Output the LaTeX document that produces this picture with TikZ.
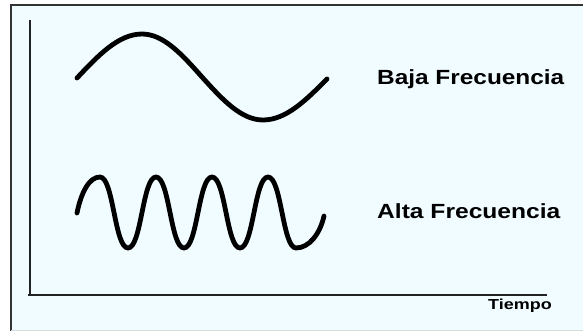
\documentclass[tikz,border=0pt]{standalone}
\usepackage{fontspec}
\setmainfont{Liberation Sans}
\definecolor{bgc}{HTML}{F0FCFF}
\definecolor{axisc}{HTML}{222222}
\definecolor{framec}{HTML}{333333}
\definecolor{framelight}{HTML}{D4DCDC}
\tikzset{
  wave/.style={line width=4.8pt, black, line cap=round, line join=round},
  axisline/.style={line width=2pt, axisc},
  biglabel/.style={anchor=base west, inner sep=0pt, font=\fontsize{20.5}{24}\selectfont\bfseries},
  smalllabel/.style={anchor=base west, inner sep=0pt, font=\fontsize{14.5}{16}\selectfont\bfseries}
}
\begin{document}
\begin{tikzpicture}[x=1pt,y=-1pt]
\useasboundingbox (0,0) rectangle (583,332);
\begin{scope}
\clip (0,0) rectangle (583,332);
\fill[bgc] (11,5) rectangle (600,331);
\draw[framec, line width=1.4pt] (11,331) -- (11,5) -- (600,5);
\draw[framelight, line width=1pt] (11,330.5) -- (600,330.5);
\end{scope}
% axes
\coordinate (ytop) at (30,20);
\coordinate (origin) at (30,294.5);
\coordinate (xend) at (547,294.5);
\draw[axisline] (ytop) -- (origin);
\draw[axisline] ([xshift=-2pt]origin) -- (xend);
% low frequency wave
\coordinate (l0) at (77,78);
\draw[wave] (l0) sin (142,34) cos (202,77) sin (263,120) cos (327,79);
% high frequency wave
\coordinate (h0) at (77,213);
\draw[wave] (h0) .. controls (81,193) and (89,177) .. (100,177)
  .. controls (113.5,177) and (114.5,248) .. (128,248)
  .. controls (141.5,248) and (142.5,177) .. (156,177)
  .. controls (169.5,177) and (170.5,248) .. (184,248)
  .. controls (197.5,248) and (198.5,177) .. (212,177)
  .. controls (225.5,177) and (226.5,248) .. (240,248)
  .. controls (253.5,248) and (254.5,177) .. (268,177)
  .. controls (281.5,177) and (282.5,248) .. (296,248)
  .. controls (309,248) and (320,234) .. (324,216);
% labels
\node[biglabel] (baja) at (377,84) {\scalebox{1.19}[1]{Baja Frecuencia}};
\node[biglabel] (alta) at (377,218.5) {\scalebox{1.2}[1]{Alta Frecuencia}};
\node[smalllabel] (tiempo) at (488,309.5) {\scalebox{1.24}[1]{Tiempo}};
\end{tikzpicture}
\end{document}
